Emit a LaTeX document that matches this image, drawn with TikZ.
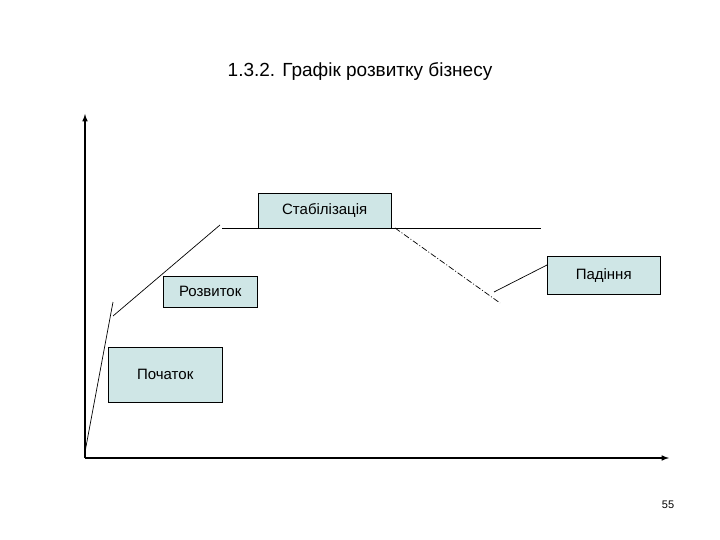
\documentclass[tikz,border=0pt]{standalone}
\usepackage{fontspec}
\setmainfont{Liberation Sans}
\begin{document}
\begin{tikzpicture}[x=1pt,y=-1pt,
  lbl/.style={draw=black,fill=boxc,font=\fontsize{15}{17}\selectfont,inner sep=0pt,anchor=north west},
  ln/.style={draw=black,line width=0.7pt},
  ax/.style={draw=black,line width=1.5pt,-latex}]
\definecolor{boxc}{HTML}{CFE6E6}
\useasboundingbox (0,0) rectangle (720,540);
\node (title) at (360,72) {\fontsize{19}{22}\selectfont 1.3.2. Графік розвитку бізнесу};
\coordinate (o) at (85,458);
\coordinate (ytop) at (85,114);
\coordinate (xend) at (669,458);
\draw[ax] (o) -- (ytop);
\draw[ax] (o) -- (xend);
\node[lbl,minimum width=133pt,minimum height=35pt] (stab) at (258,193) {Стабілізація};
\node[lbl,minimum width=113pt,minimum height=38pt] (pad) at (547,256) {Падіння};
\node[lbl,minimum width=94pt,minimum height=31pt] (roz) at (163,276) {Розвиток};
\node[lbl,minimum width=114pt,minimum height=55pt] (poch) at (108,347) {Початок};
\coordinate (a1) at (85,452);
\coordinate (a2) at (113,316);
\coordinate (a2t) at (113,302);
\coordinate (a3) at (220,225);
\coordinate (h1) at (222,228);
\coordinate (h2) at (541,228);
\coordinate (d1) at (395,228);
\coordinate (d2) at (500,303);
\coordinate (p1) at (494,292);
\draw[ln] (a1) -- (a2t);
\draw[ln] (a2) -- (a3);
\draw[ln] (h1) -- (h2);
\draw[ln,dash pattern=on 6pt off 2pt on 1pt off 2pt] (d1) -- (d2);
\draw[ln] (p1) -- (pad.west |- 0,265);
\node (pg) at (668,505) {\fontsize{11}{13}\selectfont 55};
\end{tikzpicture}
\end{document}
